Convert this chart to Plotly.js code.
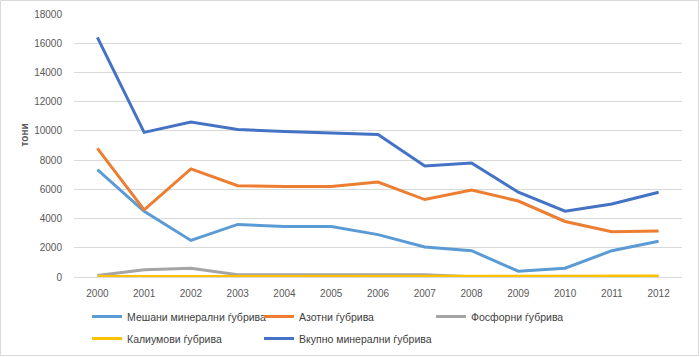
<!DOCTYPE html>
<html>
<head>
<meta charset="utf-8">
<script src="https://cdn.plot.ly/plotly-3.0.1.min.js"></script>
<style>
html,body{margin:0;padding:0;background:#fff;}
#chart{width:700px;height:357px;}
</style>
</head>
<body>
<div id="chart"></div>
<script>
const years = ["2000","2001","2002","2003","2004","2005","2006","2007","2008","2009","2010","2011","2012"];
const meshani = [7350, 4500, 2500, 3600, 3450, 3450, 2900, 2050, 1800, 400, 600, 1800, 2450];
const azotni = [8800, 4600, 7400, 6250, 6200, 6200, 6500, 5300, 5950, 5200, 3800, 3100, 3150];
const fosforni = [100, 500, 600, 150, 150, 150, 150, 150, 20, 20, 20, 20, 20];
const kalium = [30, 30, 30, 30, 30, 30, 30, 30, 30, 30, 30, 30, 60];
const vkupno = [16400, 9900, 10600, 10100, 9950, 9850, 9750, 7600, 7800, 5800, 4500, 5000, 5800];
const seriesNames = ["Мешани минерални ѓубрива","Азотни ѓубрива","Фосфорни ѓубрива","Калиумови ѓубрива","Вкупно минерални ѓубрива"];
const yTicks = [0,2000,4000,6000,8000,10000,12000,14000,16000,18000];
const yTitle = "тони";

const colors = ["#5B9BD5","#ED7D31","#A5A5A5","#FFC000","#4472C4"];
const legendRefs = ['legend','legend','legend','legend2','legend3'];
const data = [meshani, azotni, fosforni, kalium, vkupno].map((v,i)=>({
  x: years, y: v, name: seriesNames[i], type:'scatter', mode:'lines',
  line:{color:colors[i], width:3}, legend: legendRefs[i]
}));

const legendBase = {orientation:'h', x:0.0214, xanchor:'left', yref:'container', yanchor:'top',
    entrywidth:127, itemwidth:30, font:{size:10.5, color:'#404040'}, tracegroupgap:0, bgcolor:'rgba(0,0,0,0)'};

const layout = {
  width:700, height:357,
  margin:{l:74, r:18, t:14, b:80},
  paper_bgcolor:'#fff', plot_bgcolor:'#fff',
  font:{family:'Liberation Sans, Arial, sans-serif', size:10, color:'#595959'},
  showlegend:true,
  legend:Object.assign({}, legendBase, {y:0.154}),
  legend2:Object.assign({}, legendBase, {y:0.0924}),
  legend3:Object.assign({}, legendBase, {y:0.0924, x:0.3043, entrywidth:0}),
  xaxis:{type:'category', range:[-0.5,12.5], showgrid:false, showline:true, linecolor:'#D9D9D9', linewidth:1,
    ticks:'', ticklabelstandoff:7, tickfont:{size:10, color:'#595959'}, fixedrange:true, zeroline:false, automargin:false},
  yaxis:{range:[0,18000], tickvals:yTicks, ticktext:yTicks.map(String), showgrid:true, gridcolor:'#D9D9D9', gridwidth:1,
    zeroline:false, showline:false, ticks:'', ticklabelstandoff:11, automargin:false,
    tickfont:{size:10, color:'#595959'}},
  annotations:[{text:'<b>'+yTitle+'</b>', xref:'paper', yref:'paper', x:-0.0814, y:0.54, textangle:-90,
    showarrow:false, font:{size:10, color:'#595959'}, xanchor:'center', yanchor:'middle'}],
  shapes:[{type:'rect', xref:'paper', yref:'paper', x0:-0.1209, x1:1.0271, y0:-0.2985, y1:1.0513,
    line:{color:'#D9D9D9', width:1}, fillcolor:'rgba(0,0,0,0)', layer:'below'}]
};
Plotly.newPlot('chart', data, layout, {displayModeBar:false, staticPlot:true});
</script>
</body>
</html>
